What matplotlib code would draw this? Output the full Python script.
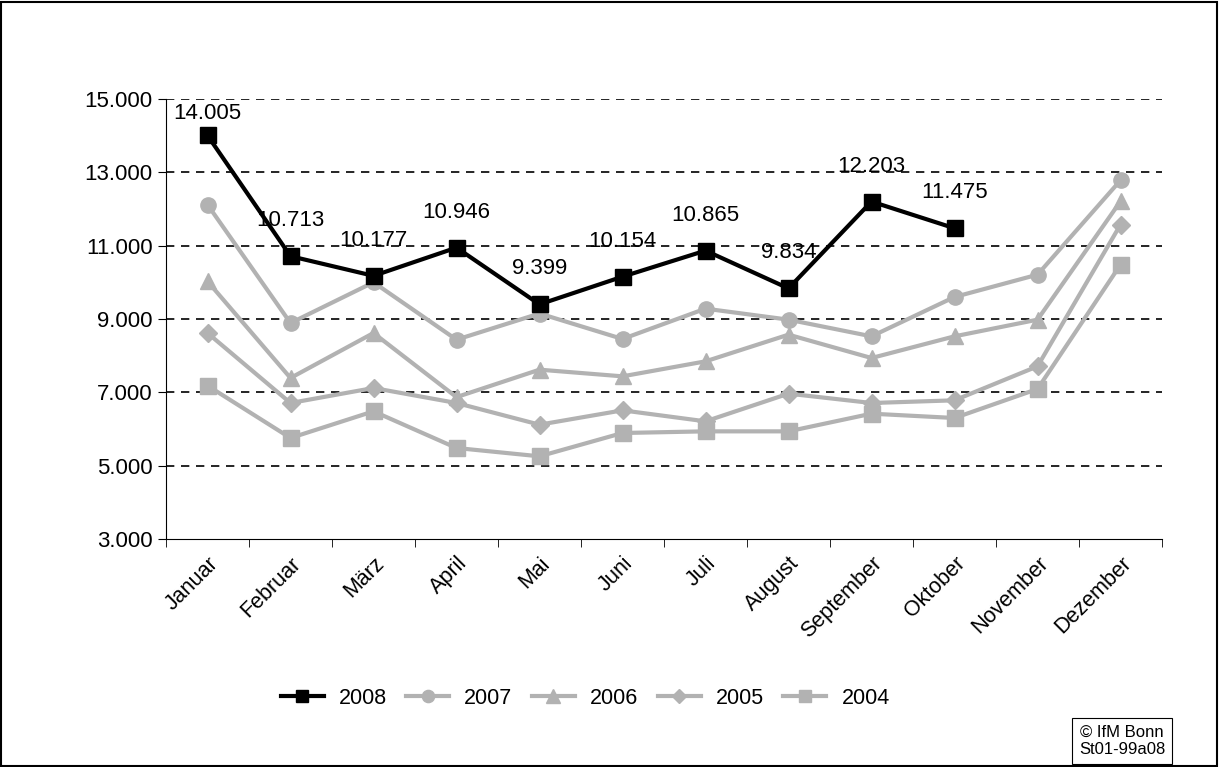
import matplotlib.pyplot as plt
from matplotlib.patches import Rectangle
from matplotlib.ticker import FuncFormatter

months = ["Januar", "Februar", "März", "April", "Mai", "Juni", "Juli",
          "August", "September", "Oktober", "November", "Dezember"]
y2008 = [14005, 10713, 10177, 10946, 9399, 10154, 10865, 9834, 12203, 11475]
y2007 = [12118, 8890, 10000, 8436, 9150, 8455, 9282, 8982, 8527, 9600, 10209, 12782]
y2006 = [10027, 7391, 8618, 6870, 7618, 7436, 7845, 8573, 7936, 8527, 8982, 12209]
y2005 = [8618, 6709, 7118, 6709, 6118, 6509, 6209, 6964, 6709, 6782, 7709, 11573]
y2004 = [7182, 5755, 6482, 5482, 5255, 5891, 5936, 5936, 6418, 6300, 7091, 10482]

GREY = "#b2b2b2"
FONT = "Liberation Sans"
fmt = lambda v: f"{v:,.0f}".replace(",", ".")

fig = plt.figure(figsize=(12.19, 7.67), dpi=100)
fig.patches.append(Rectangle((0.001, 0.001), 0.997, 0.997, transform=fig.transFigure,
                             fill=False, ec="black", lw=1.5))
ax = fig.add_axes([166 / 1219, 1 - 539 / 767, 996 / 1219, 440 / 767])

x = list(range(12))
series = [("2008", y2008, "black", "s", 11),
          ("2007", y2007, GREY, "o", 11),
          ("2006", y2006, GREY, "^", 12),
          ("2005", y2005, GREY, "D", 9),
          ("2004", y2004, GREY, "s", 11)]
for name, ys, c, m, ms in reversed(series):
    ax.plot(x[:len(ys)], ys, color=c, marker=m, ms=ms, lw=3, label=name,
            zorder=4 if name == "2008" else 3)

for i, v in enumerate(y2008):
    off = 8 if i == 0 else 18
    ax.annotate(fmt(v), (i, v), xytext=(0, off), textcoords="offset points",
                ha="center", va="bottom", fontsize=16, family=FONT, zorder=5)

ax.set_ylim(3000, 15000)
ax.set_xlim(-0.5, 11.5)
ax.set_yticks(range(3000, 15001, 2000))
ax.yaxis.set_major_formatter(FuncFormatter(lambda v, p: fmt(v)))
for yv in range(5000, 15001, 2000):
    ax.axhline(yv, color="black", lw=1.2, ls=(0, (5, 4)), zorder=1)
ax.set_xticks(x)
ax.set_xticklabels(months, rotation=45, ha="right", rotation_mode="anchor",
                   fontsize=15.5, family=FONT)
ax.set_xticks([i + 0.5 for i in range(-1, 12)], minor=True)
ax.tick_params(axis="x", which="major", length=0, pad=10)
ax.tick_params(axis="x", which="minor", length=6, direction="out")
ax.tick_params(axis="y", length=6, labelsize=16)
for lab in ax.get_yticklabels():
    lab.set_family(FONT)
for s in ("top", "right"):
    ax.spines[s].set_visible(False)

handles, labels = ax.get_legend_handles_labels()
fig.legend(handles[::-1], labels[::-1], loc="center", bbox_to_anchor=(0.48, 1 - 698 / 767),
           ncol=5, frameon=False, prop={"family": FONT, "size": 15.5},
           handlelength=2.0, columnspacing=0.9, handletextpad=0.7, markerscale=0.8)

fig.text(1122 / 1219, 1 - 741 / 767, "© IfM Bonn\nSt01-99a08", ha="center", va="center",
         fontsize=12, family=FONT,
         bbox=dict(boxstyle="square,pad=0.4", fc="white", ec="black", lw=0.8))

fig.savefig("out.png", dpi=100)
